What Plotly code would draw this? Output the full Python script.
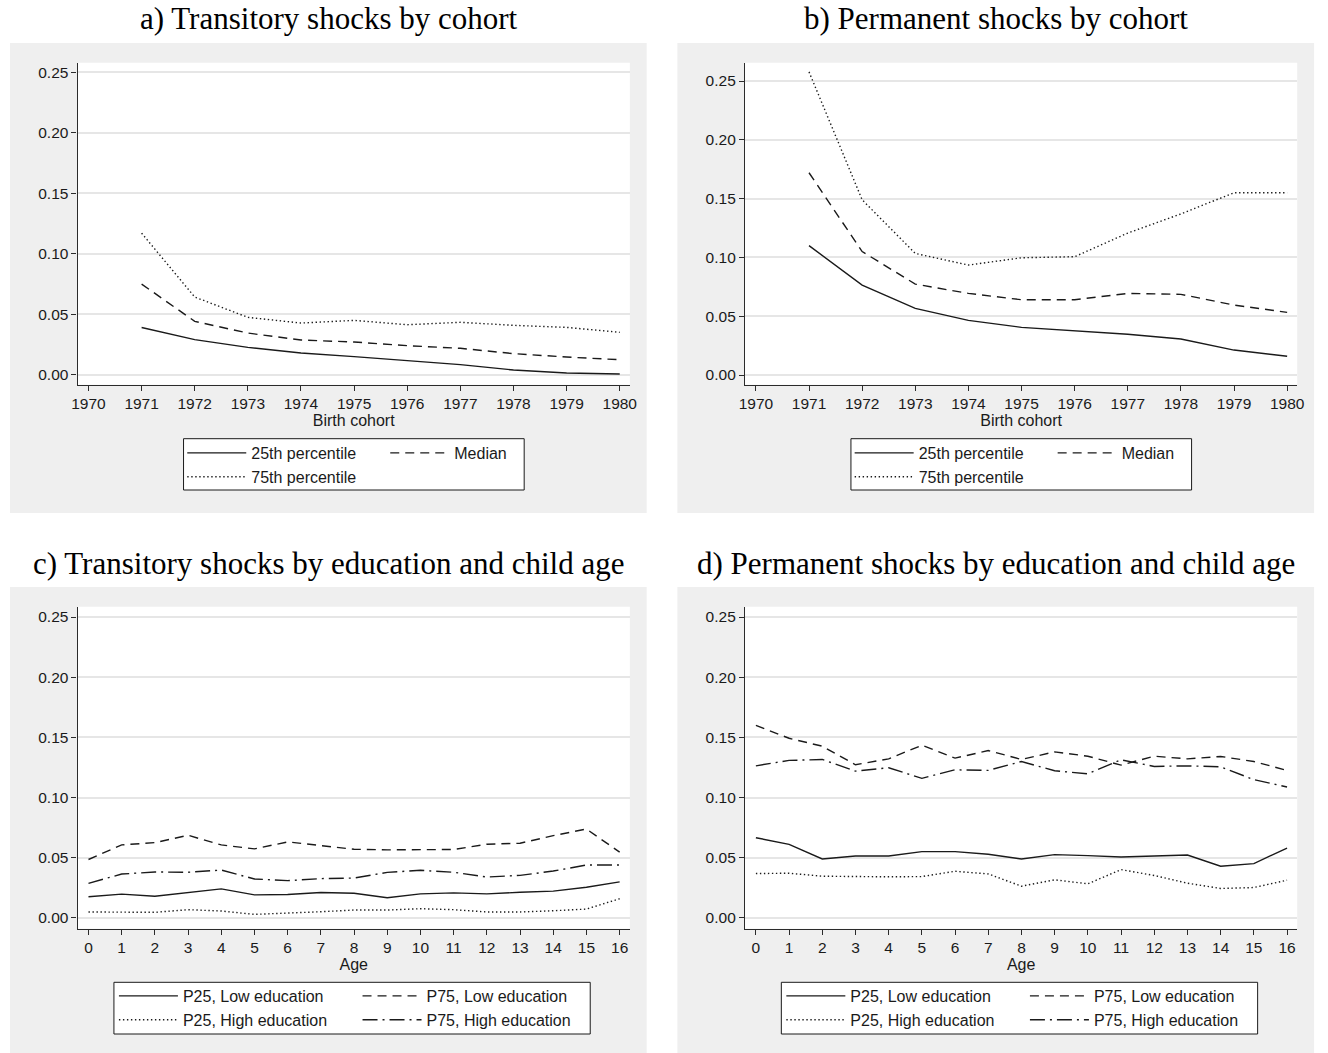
import plotly.graph_objects as go

# ---- data -------------------------------------------------------------
cohorts = [1971, 1972, 1973, 1974, 1975, 1976, 1977, 1978, 1979, 1980]
cohort_ticks = [1970, 1971, 1972, 1973, 1974, 1975, 1976, 1977, 1978, 1979, 1980]
ages = [0, 1, 2, 3, 4, 5, 6, 7, 8, 9, 10, 11, 12, 13, 14, 15, 16]
y_ticks = [0.00, 0.05, 0.10, 0.15, 0.20, 0.25]

# a) transitory shocks by cohort
trans_p25 = [0.0390, 0.0290, 0.0226, 0.0179, 0.0149, 0.0116, 0.0083, 0.0039, 0.0014, 0.0006]
trans_p50 = [0.0749, 0.0441, 0.0344, 0.0287, 0.0270, 0.0240, 0.0218, 0.0174, 0.0146, 0.0124]
trans_p75 = [0.1170, 0.0642, 0.0474, 0.0427, 0.0449, 0.0413, 0.0433, 0.0408, 0.0391, 0.0350]

# b) permanent shocks by cohort
perm_p25 = [0.1100, 0.0765, 0.0567, 0.0465, 0.0405, 0.0377, 0.0346, 0.0306, 0.0212, 0.0159]
perm_p50 = [0.1720, 0.1050, 0.0773, 0.0694, 0.0640, 0.0640, 0.0694, 0.0686, 0.0595, 0.0533]
perm_p75 = [0.2578, 0.1490, 0.1034, 0.0935, 0.0997, 0.1006, 0.1207, 0.1370, 0.1550, 0.1550]

# c) transitory shocks by education and child age
trans_p25_low = [0.0176, 0.0198, 0.0181, 0.0212, 0.0242, 0.0192, 0.0195, 0.0212, 0.0206,
                 0.0168, 0.0200, 0.0209, 0.0200, 0.0214, 0.0223, 0.0255, 0.0300]
trans_p75_low = [0.0486, 0.0607, 0.0626, 0.0687, 0.0607, 0.0574, 0.0632, 0.0599, 0.0571,
                 0.0566, 0.0566, 0.0569, 0.0613, 0.0621, 0.0684, 0.0739, 0.0547]
trans_p25_high = [0.0050, 0.0050, 0.0047, 0.0069, 0.0058, 0.0030, 0.0038, 0.0052, 0.0066,
                  0.0066, 0.0077, 0.0069, 0.0050, 0.0050, 0.0060, 0.0074, 0.0160]
trans_p75_high = [0.0288, 0.0365, 0.0382, 0.0380, 0.0398, 0.0324, 0.0310, 0.0327, 0.0332,
                  0.0379, 0.0396, 0.0380, 0.0340, 0.0354, 0.0390, 0.0440, 0.0440]

# d) permanent shocks by education and child age
perm_p25_low = [0.0667, 0.0612, 0.0490, 0.0515, 0.0515, 0.0551, 0.0551, 0.0529, 0.0490,
                0.0526, 0.0518, 0.0507, 0.0515, 0.0523, 0.0430, 0.0452, 0.0581]
perm_p75_low = [0.1600, 0.1493, 0.1427, 0.1273, 0.1322, 0.1435, 0.1328, 0.1391, 0.1317,
                0.1380, 0.1344, 0.1270, 0.1344, 0.1322, 0.1342, 0.1300, 0.1226]
perm_p25_high = [0.0369, 0.0372, 0.0347, 0.0342, 0.0342, 0.0344, 0.0388, 0.0366, 0.0264,
                 0.0317, 0.0284, 0.0402, 0.0353, 0.0289, 0.0245, 0.0253, 0.0314]
perm_p75_high = [0.1264, 0.1309, 0.1317, 0.1220, 0.1248, 0.1160, 0.1231, 0.1226, 0.1300,
                 0.1223, 0.1198, 0.1314, 0.1259, 0.1264, 0.1256, 0.1149, 0.1088]

panel_titles = [
    "a) Transitory shocks by cohort",
    "b) Permanent shocks by cohort",
    "c) Transitory shocks by education and child age",
    "d) Permanent shocks by education and child age",
]

# ---- page geometry (pixels) -------------------------------------------
W, H = 1328, 1053
PANEL_DX = 674      # horizontal offset of right-hand panels
PANEL_DY = 544      # vertical offset of lower panels


def px(x):
    return x / W


def py(y):
    return 1 - y / H


INK = "#1a1a1a"
AXIS = "#2b2b2b"
BG = "#efefef"
GRID = "#e6e6e6"
SANS = "Liberation Sans, Arial, sans-serif"
SERIF = "Liberation Serif, Times New Roman, serif"

STYLES = {
    "solid": "solid",
    "dash": "9px,6px",
    "dot": "1.4px,2.6px",
    "dashdot": "15px,5px,2px,5px",
}

fig = go.Figure()

# (axis suffix, x offset, y offset, x values, x range, y range, x ticks, x title,
#  [(name, values, style, legend column)])
panels = [
    ("", 0, 0, cohorts, [1969.795, 1980.19], [-0.00827, 0.2579], cohort_ticks, "Birth cohort",
     [("25th percentile", trans_p25, "solid", 0),
      ("Median", trans_p50, "dash", 1),
      ("75th percentile", trans_p75, "dot", 0)]),
    ("2", PANEL_DX, 0, cohorts, [1969.795, 1980.19], [-0.00825, 0.2656], cohort_ticks, "Birth cohort",
     [("25th percentile", perm_p25, "solid", 0),
      ("Median", perm_p50, "dash", 1),
      ("75th percentile", perm_p75, "dot", 0)]),
    ("3", 0, PANEL_DY, ages, [-0.328, 16.307], [-0.0089, 0.2586], ages, "Age",
     [("P25, Low education", trans_p25_low, "solid", 0),
      ("P75, Low education", trans_p75_low, "dash", 1),
      ("P25, High education", trans_p25_high, "dot", 0),
      ("P75, High education", trans_p75_high, "dashdot", 1)]),
    ("4", PANEL_DX, PANEL_DY, ages, [-0.328, 16.307], [-0.0089, 0.2586], ages, "Age",
     [("P25, Low education", perm_p25_low, "solid", 0),
      ("P75, Low education", perm_p75_low, "dash", 1),
      ("P25, High education", perm_p25_high, "dot", 0),
      ("P75, High education", perm_p75_high, "dashdot", 1)]),
]

shapes = []
annotations = []
layout_axes = {}
legends = {}
legend_counter = 1

for idx, (sfx, ox, oy, xs, xr, yr, xt, xtitle, series) in enumerate(panels):
    # grey panel background, then the white plotting region on top of it
    shapes.append(dict(type="rect", xref="paper", yref="paper", layer="below",
                       x0=px(4 + ox), x1=px(647 + ox), y0=py(min(513 + oy, H)), y1=py(43 + oy),
                       fillcolor=BG, line=dict(width=0)))
    shapes.append(dict(type="rect", xref="paper", yref="paper", layer="below",
                       x0=px(72.3 + ox), x1=px(630 + ox), y0=py(384.7 + oy), y1=py(62.7 + oy),
                       fillcolor="white", line=dict(width=0)))

    # axes
    layout_axes["xaxis" + sfx] = dict(
        domain=[px(72.3 + ox), px(630 + ox)], anchor="y" + sfx, range=xr,
        tickmode="array", tickvals=xt, ticktext=[str(v) for v in xt],
        showgrid=False, zeroline=False, showline=True, linecolor=AXIS, linewidth=1.2,
        ticks="outside", ticklen=5, tickwidth=1.2, tickcolor=AXIS,
        tickfont=dict(family=SANS, size=15.5, color=INK),
        title=dict(text=xtitle, font=dict(family=SANS, size=16, color=INK), standoff=3),
        fixedrange=True,
    )
    layout_axes["yaxis" + sfx] = dict(
        domain=[py(384.7 + oy), py(62.7 + oy)], anchor="x" + sfx, range=yr,
        tickmode="array", tickvals=y_ticks, ticktext=[f"{v:.2f}" for v in y_ticks],
        showgrid=True, gridcolor=GRID, gridwidth=1.6, zeroline=False,
        showline=True, linecolor=AXIS, linewidth=1.2,
        ticks="outside", ticklen=5, tickwidth=1.2, tickcolor=AXIS,
        tickfont=dict(family=SANS, size=15.5, color=INK),
        fixedrange=True,
    )

    # panel title
    annotations.append(dict(text=panel_titles[idx], xref="paper", yref="paper",
                            x=px(326 + ox), y=py(19 + oy), xanchor="center", yanchor="middle",
                            showarrow=False, font=dict(family=SERIF, size=31, color="black")))

    # legend frame and two legend columns
    if len(series) == 3:
        box = (179.3, 523.3, 438.7, 490.0)
        col_x = (178.0, 383.0)
        top = 436.0
    else:
        box = (109.0, 590.0, 982.3 - PANEL_DY, 1034.0 - PANEL_DY)
        col_x = (109.0, 355.0)
        top = 979.0 - PANEL_DY
    shapes.append(dict(type="rect", xref="paper", yref="paper", layer="above",
                       x0=px(box[0] + ox), x1=px(box[1] + ox),
                       y0=py(box[3] + oy), y1=py(box[2] + oy),
                       fillcolor="white", line=dict(color=INK, width=1)))
    names = []
    for c in range(2):
        lname = "legend" if legend_counter == 1 else f"legend{legend_counter}"
        legend_counter += 1
        names.append(lname)
        legends[lname] = dict(
            x=px(col_x[c] + ox), y=py(top + oy), xanchor="left", yanchor="top",
            orientation="v", bgcolor="rgba(0,0,0,0)", borderwidth=0,
            font=dict(family=SANS, size=16, color=INK), itemwidth=59,
            tracegroupgap=0, traceorder="normal",
        )

    for name, vals, style, col in series:
        fig.add_trace(go.Scatter(
            x=xs, y=vals, name=name, mode="lines",
            line=dict(color=INK, width=1.4, dash=STYLES[style]),
            xaxis="x" + sfx, yaxis="y" + sfx, legend=names[col],
            showlegend=True, hoverinfo="x+y+name",
        ))

fig.update_layout(
    width=W, height=H, margin=dict(l=0, r=0, t=0, b=0),
    paper_bgcolor="white", plot_bgcolor="white",
    shapes=shapes, annotations=annotations, showlegend=True,
    **layout_axes, **legends,
)

fig.write_html("out.html")
